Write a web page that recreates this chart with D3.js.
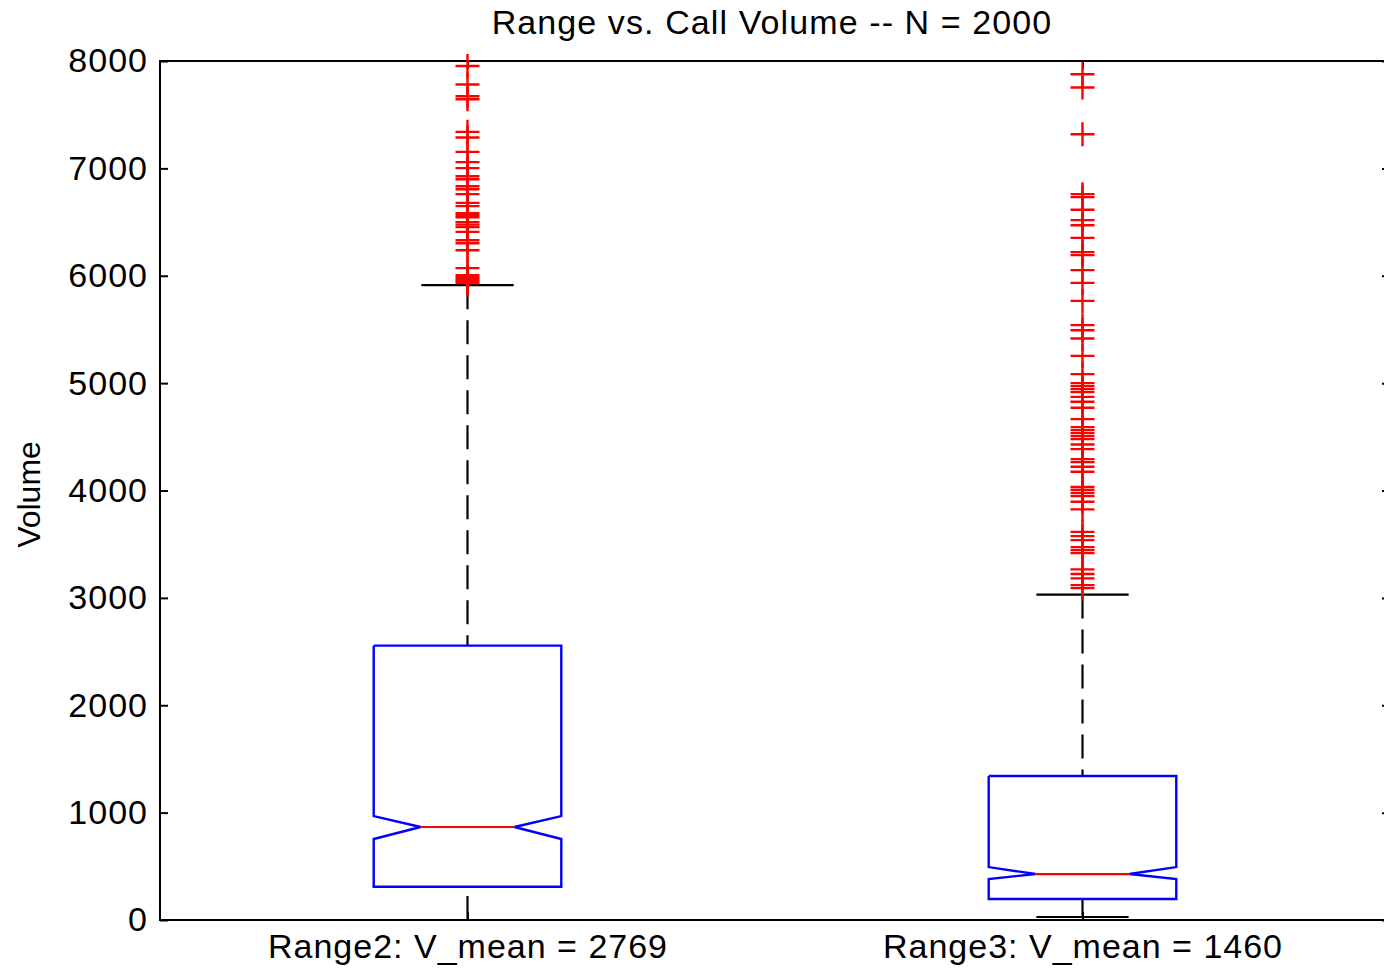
<!DOCTYPE html>
<html>
<head>
<meta charset="utf-8">
<script src="https://cdn.jsdelivr.net/npm/d3@7"></script>
<style>
  html, body { margin: 0; padding: 0; background: #fff; }
  svg { display: block; }
  text { font-family: "Liberation Sans", Arial, Helvetica, sans-serif; fill: #000; }
</style>
</head>
<body>
<svg id="chart" width="1384" height="970"></svg>
<script>
// Box summaries per range (call volume)
const categories = ["Range2: V_mean = 2769", "Range3: V_mean = 1460"];
const positions = [1, 2];
const q1 = [310, 196];
const medians = [866, 428];
const q3 = [2555, 1341];
const notchLo = [754, 382];
const notchHi = [968, 493];
const whiskerLo = [0, 28];
const whiskerHi = [5912, 3031];

// Outliers above the upper whisker
const outliersRange2 = [
  7954, 7781, 7672, 7644, 7340, 7288, 7154, 7058, 7002, 6927, 6899, 6834,
  6806, 6760, 6679, 6648, 6583, 6564, 6545, 6499, 6476, 6453, 6409, 6331,
  6303, 6238, 6071, 6006, 5987, 5968, 5950, 5931
];
const outliersRange3 = [
  7877, 7753, 7318, 6760, 6732, 6615, 6518, 6471, 6353, 6220, 6192, 6052,
  5934, 5766, 5540, 5493, 5416, 5254, 5084, 5000, 4972, 4944, 4916, 4872,
  4826, 4770, 4665, 4590, 4562, 4534, 4506, 4478, 4429, 4385, 4292, 4264,
  4221, 4174, 4032, 4004, 3976, 3948, 3895, 3824, 3615, 3575, 3538, 3473,
  3445, 3417, 3265, 3222, 3182, 3119, 3091
];
const outliers = [outliersRange2, outliersRange3];

const yTicks = [0, 1000, 2000, 3000, 4000, 5000, 6000, 7000, 8000];
const title = "Range vs. Call Volume -- N = 2000";
const yLabel = "Volume";

const plot = { left: 160, right: 1390, top: 61, bottom: 920 };
const boxWidth = 0.305;      // in x-axis units
const notchDepth = 0.25;     // fraction of box width
const capHalf = 0.075;       // half cap length, in x-axis units

const svg = d3.select("#chart");
const x = d3.scaleLinear().domain([0.5, 2.5]).range([plot.left, plot.right]);
const y = d3.scaleLinear().domain([0, 8000]).range([plot.bottom, plot.top]);

const fontSize = 34;

// Axes frame
svg.append("rect")
  .attr("x", plot.left).attr("y", plot.top)
  .attr("width", plot.right - plot.left).attr("height", plot.bottom - plot.top)
  .attr("fill", "none").attr("stroke", "#000").attr("stroke-width", 2);

// Y axis (left, labelled) and mirrored right ticks
const yAxis = svg.append("g").attr("transform", `translate(${plot.left},0)`)
  .call(d3.axisLeft(y).tickValues(yTicks).tickSize(-8).tickPadding(12).tickFormat(d3.format("d")));
yAxis.select(".domain").remove();
yAxis.selectAll("line").attr("stroke", "#000").attr("stroke-width", 2);
yAxis.selectAll("text")
  .style("font-size", fontSize + "px").style("letter-spacing", "1px")
  .attr("fill", "#000");

const yAxisR = svg.append("g").attr("transform", `translate(${plot.right},0)`)
  .call(d3.axisRight(y).tickValues(yTicks).tickSize(-8).tickFormat(""));
yAxisR.select(".domain").remove();
yAxisR.selectAll("line").attr("stroke", "#000").attr("stroke-width", 2);

// X axis (bottom, category labels) and mirrored top ticks
const xAxis = svg.append("g").attr("transform", `translate(0,${plot.bottom})`)
  .call(d3.axisBottom(x).tickValues(positions).tickSize(-8).tickPadding(14)
    .tickFormat((d, i) => categories[i]));
xAxis.select(".domain").remove();
xAxis.selectAll("line").attr("stroke", "#000").attr("stroke-width", 2);
xAxis.selectAll("text")
  .style("font-size", fontSize + "px").style("letter-spacing", "1px")
  .attr("fill", "#000");

const xAxisT = svg.append("g").attr("transform", `translate(0,${plot.top})`)
  .call(d3.axisTop(x).tickValues(positions).tickSize(-8).tickFormat(""));
xAxisT.select(".domain").remove();
xAxisT.selectAll("line").attr("stroke", "#000").attr("stroke-width", 2);

// Title and y label
svg.append("text")
  .attr("x", (plot.left + 1384) / 2).attr("y", 34)
  .attr("text-anchor", "middle")
  .style("font-size", fontSize + "px").style("letter-spacing", "1.1px")
  .text(title);

svg.append("text")
  .attr("transform", `translate(40,${(plot.top + plot.bottom) / 2 + 4}) rotate(-90)`)
  .attr("text-anchor", "middle")
  .style("font-size", "32px")
  .text(yLabel);

// Boxes
const groups = svg.append("g").selectAll("g")
  .data(positions.map((p, i) => ({
    p, q1: q1[i], med: medians[i], q3: q3[i],
    nlo: notchLo[i], nhi: notchHi[i],
    wlo: whiskerLo[i], whi: whiskerHi[i], out: outliers[i]
  })))
  .join("g");

// Whiskers (dashed), drawn from the caps toward the box
groups.append("line")
  .attr("x1", d => x(d.p)).attr("x2", d => x(d.p))
  .attr("y1", d => y(d.whi)).attr("y2", d => y(d.q3))
  .attr("stroke", "#000").attr("stroke-width", 2.2)
  .attr("stroke-dasharray", "24,11");
groups.append("line")
  .attr("x1", d => x(d.p)).attr("x2", d => x(d.p))
  .attr("y1", d => y(d.wlo)).attr("y2", d => y(d.q1))
  .attr("stroke", "#000").attr("stroke-width", 2.2)
  .attr("stroke-dasharray", "24,11");

// Whisker caps
["whi", "wlo"].forEach(k => {
  groups.append("line")
    .attr("x1", d => x(d.p - capHalf)).attr("x2", d => x(d.p + capHalf))
    .attr("y1", d => y(d[k])).attr("y2", d => y(d[k]))
    .attr("stroke", "#000").attr("stroke-width", 2.2);
});

// Notched box outline
const boxEdges = d => {
  const x0 = x(d.p - boxWidth / 2), x1 = x(d.p + boxWidth / 2);
  return { x0, x1, inset: (x1 - x0) * notchDepth };
};
groups.append("path")
  .attr("fill", "none").attr("stroke", "#0000ff").attr("stroke-width", 2.4)
  .attr("d", d => {
    const { x0, x1, inset } = boxEdges(d);
    return d3.line()([
      [x0, y(d.q3)], [x0, y(d.nhi)], [x0 + inset, y(d.med)], [x0, y(d.nlo)],
      [x0, y(d.q1)], [x1, y(d.q1)], [x1, y(d.nlo)], [x1 - inset, y(d.med)],
      [x1, y(d.nhi)], [x1, y(d.q3)], [x0, y(d.q3)]
    ]);
  });

// Median line
groups.append("line")
  .attr("x1", d => boxEdges(d).x0 + boxEdges(d).inset)
  .attr("x2", d => boxEdges(d).x1 - boxEdges(d).inset)
  .attr("y1", d => y(d.med)).attr("y2", d => y(d.med))
  .attr("stroke", "#ff0000").attr("stroke-width", 2.2);

// Outlier "+" markers
const half = 12;
groups.each(function (d) {
  const g = d3.select(this).append("g").attr("stroke", "#ff0000").attr("stroke-width", 2.4);
  g.selectAll("path").data(d.out).join("path")
    .attr("d", v => {
      const cx = x(d.p), cy = y(v);
      return `M${cx - half},${cy}H${cx + half}M${cx},${cy - half}V${cy + half}`;
    });
});
</script>
</body>
</html>
